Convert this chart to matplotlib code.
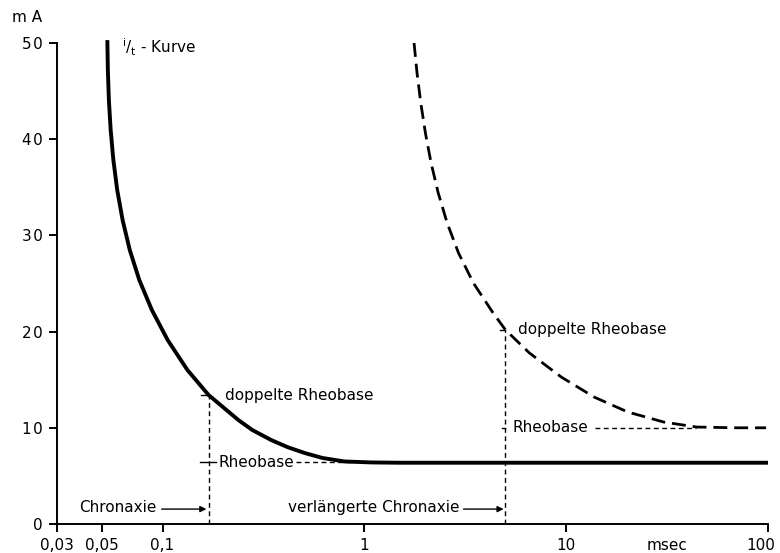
import numpy as np
import matplotlib
matplotlib.use("Agg")
import matplotlib.pyplot as plt
import matplotlib.transforms as mtransforms

# i/t curve (solid)
t_solid = [0.05328, 0.05359, 0.05422, 0.05534, 0.05706, 0.05963, 0.06341,
           0.06882, 0.07673, 0.08852, 0.1060, 0.1328, 0.1691, 0.2375,
           0.2785, 0.3454, 0.4175, 0.5062, 0.6210, 0.7968, 1.083, 1.471,
           3.0, 10.0, 100.0]
i_solid = [50.3, 47.19, 44.07, 40.96, 37.84, 34.72, 31.60,
           28.48, 25.36, 22.25, 19.13, 16.01, 13.41, 10.81,
           9.77, 8.73, 7.98, 7.38, 6.86, 6.50, 6.40, 6.37,
           6.37, 6.37, 6.37]

# shifted curve (dashed)
t_dash = [1.763, 1.824, 1.904, 2.007, 2.141, 2.323, 2.572, 2.928, 3.470,
          4.346, 5.006, 6.573, 9.450, 13.74, 20.20, 30.39, 44.19, 69.6, 97.8]
i_dash = [50.0, 46.88, 43.76, 40.64, 37.53, 34.41, 31.29, 28.17, 25.05,
          21.93, 20.17, 17.78, 15.28, 13.20, 11.64, 10.60, 10.08, 10.0, 10.0]

chronaxie = [0.17, 5.0]
rheobase = [6.4, 10.0]
double_rheo = [13.4, 20.2]

x_ticks = [0.03, 0.05, 0.1, 1, 10, 100]
x_labels = ["0,03", "0,05", "0,1", "1", "10", "100"]
y_ticks = [0, 10, 20, 30, 40, 50]
y_labels = ["0", "1\u200a0", "2\u200a0", "3\u200a0", "4\u200a0", "5\u200a0"]

plt.rcParams['font.family'] = ['DejaVu Sans']
fs = 11

fig = plt.figure(figsize=(7.8, 5.53), dpi=100)
ax = fig.add_axes([57/780, 1 - 524/553, (768 - 57)/780, (524 - 43)/553])
ax.set_xscale('log')
ax.set_xlim(0.03, 100)
ax.set_ylim(0, 50)

for s in ['top', 'right']:
    ax.spines[s].set_visible(False)
for s in ['left', 'bottom']:
    ax.spines[s].set_linewidth(1.4)

ax.set_xticks(x_ticks)
ax.set_xticklabels(x_labels)
ax.minorticks_off()
ax.set_yticks(y_ticks)
ax.set_yticklabels(y_labels)
ax.tick_params(axis='both', direction='out', length=6, width=1.4, labelsize=fs, pad=4)

# keep the last x label inside the figure
last = ax.get_xticklabels()[-1]
last.set_transform(last.get_transform() +
                   mtransforms.ScaledTranslation(-7/100, 0, fig.dpi_scale_trans))

# curves
ax.plot(t_solid, i_solid, color='black', lw=2.8, solid_joinstyle='round',
        solid_capstyle='butt', clip_on=False)
ax.plot(t_dash, i_dash, color='black', lw=2.0, dashes=(5, 2.5), clip_on=False)

thin = dict(color='black', lw=1.0, dashes=(3.5, 2.5))

# solid curve helpers
ax.plot([chronaxie[0], chronaxie[0]], [0, double_rheo[0]], **thin)
ax.plot([0.155, chronaxie[0]], [double_rheo[0], double_rheo[0]], color='black', lw=1.0)
ax.plot([0.153, 0.185], [rheobase[0], rheobase[0]], color='black', lw=1.0)
ax.plot([0.46, 0.86], [rheobase[0], rheobase[0]], **thin)
ax.text(0.189, rheobase[0], "Rheobase", fontsize=fs, va='center', ha='left')
ax.text(0.205, double_rheo[0], "doppelte Rheobase", fontsize=fs, va='center', ha='left')

# dashed curve helpers
ax.plot([chronaxie[1], chronaxie[1]], [0, double_rheo[1]], **thin)
ax.plot([4.7, chronaxie[1]], [double_rheo[1], double_rheo[1]], color='black', lw=1.0)
ax.plot([4.82, chronaxie[1]], [rheobase[1], rheobase[1]], color='black', lw=1.0)
ax.plot([13.9, 44], [rheobase[1], rheobase[1]], **thin)
ax.text(5.42, rheobase[1], "Rheobase", fontsize=fs, va='center', ha='left')
ax.text(5.8, double_rheo[1], "doppelte Rheobase", fontsize=fs, va='center', ha='left')

# chronaxie arrows
arrow = dict(arrowstyle='-|>', color='black', lw=1.0, mutation_scale=9,
             shrinkA=0, shrinkB=0)
ax.annotate("", xy=(0.165, 1.55), xytext=(0.099, 1.55), arrowprops=arrow)
ax.text(0.093, 1.7, "Chronaxie", fontsize=fs, va='center', ha='right')
ax.annotate("", xy=(4.9, 1.55), xytext=(3.1, 1.55), arrowprops=arrow)
ax.text(2.95, 1.7, "verlängerte Chronaxie", fontsize=fs, va='center', ha='right')

# labels
ax.text(0.063, 49.6, r"$^{\mathrm{i}}/_{\mathrm{t}}$ - Kurve", fontsize=fs,
        va='center', ha='left')
fig.text(12/780, 1 - 18/553, "m A", fontsize=fs, va='center', ha='left')
ax.annotate("msec", xy=(31.5, 0), xycoords=('data', 'axes fraction'),
            xytext=(0, -10), textcoords='offset points', fontsize=fs,
            ha='center', va='top')

fig.savefig("out.png", dpi=100)
